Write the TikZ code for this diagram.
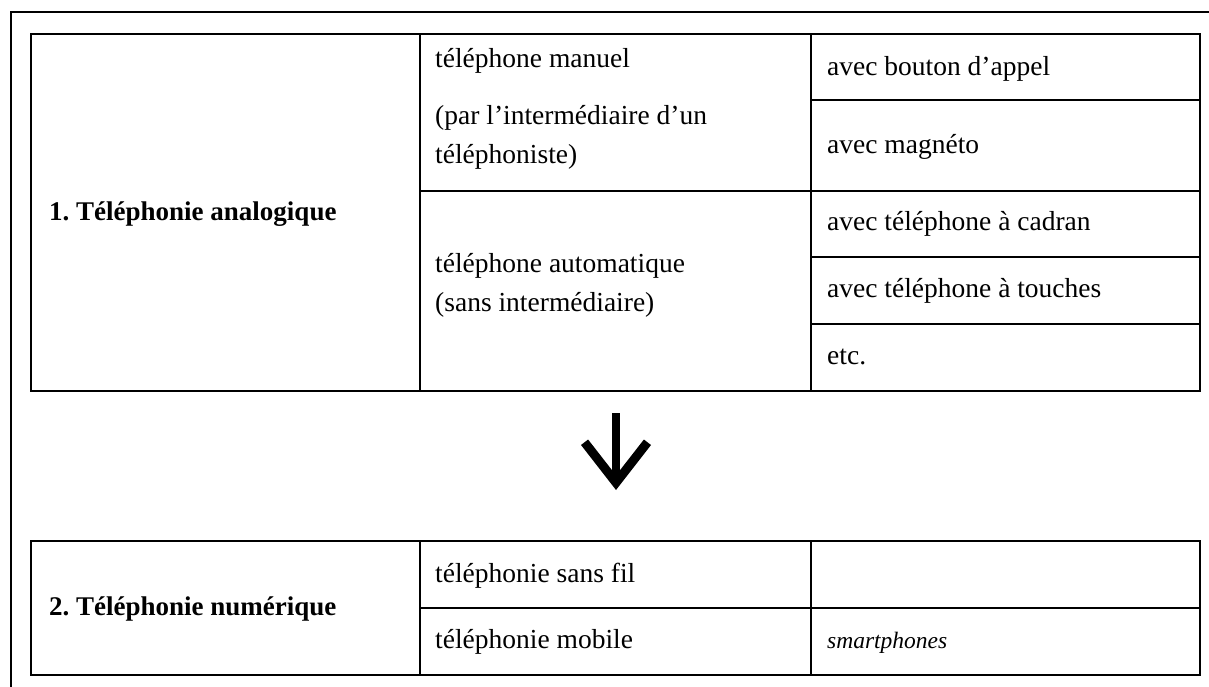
\documentclass[tikz,border=0pt]{standalone}
\usepackage{fontspec}
\setmainfont{Liberation Serif}
\usetikzlibrary{calc}
\frenchspacing
\begin{document}
\begin{tikzpicture}[x=1pt,y=-1pt,
  rule/.style={line width=2pt, line join=miter},
  txt/.style={inner sep=0pt, anchor=base west, font=\fontsize{27.5}{30}\selectfont},
  head/.style={txt, font=\fontsize{27}{30}\selectfont\bfseries},
  ital/.style={txt, font=\fontsize{23.5}{26}\selectfont\itshape}]
\useasboundingbox (0,0) rectangle (1209,686);
% outer frame (only top and left visible)
\draw[rule] (11,687) -- (11,12) -- (1210,12);
% table 1 grid
\draw[rule] (31,34) rectangle (1200,391);
\draw[rule] (420,34) -- (420,391);
\draw[rule] (811,34) -- (811,391);
\draw[rule] (420,191) -- (1200,191);
\draw[rule] (811,100) -- (1200,100);
\draw[rule] (811,257) -- (1200,257);
\draw[rule] (811,324) -- (1200,324);
% table 2 grid
\draw[rule] (31,541) rectangle (1200,675);
\draw[rule] (420,541) -- (420,675);
\draw[rule] (811,541) -- (811,675);
\draw[rule] (420,608) -- (1200,608);
% table 1 texts
\node[head] (t1) at (49,220) {1. Téléphonie analogique};
\node[txt] (man1) at (435,67) {téléphone manuel};
\node[txt] (man2) at (435,124) {(par l’intermédiaire d’un};
\node[txt] (man3) at (435,163) {téléphoniste)};
\node[txt] (aut1) at (435,272) {téléphone automatique};
\node[txt] (aut2) at (435,311) {(sans intermédiaire)};
\node[txt] (c1) at (827,75) {avec bouton d’appel};
\node[txt] (c2) at (827,153) {avec magnéto};
\node[txt] (c3) at (827,230) {avec téléphone à cadran};
\node[txt] (c4) at (827,297) {avec téléphone à touches};
\node[txt] (c5) at (827,364) {etc.};
% arrow
\coordinate (arrtop) at (616,413);
\coordinate (arrtip) at (616,490);
\draw[line width=8pt] (arrtop) -- ($(arrtip)+(0,-10)$);
\fill (arrtip) -- ($(arrtip)+(-35,-45)$) -- ($(arrtip)+(-27.9,-50.5)$)
      -- ($(arrtip)+(0,-14.7)$) -- ($(arrtip)+(27.9,-50.5)$)
      -- ($(arrtip)+(35,-45)$) -- cycle;
% table 2 texts
\node[head] (t2) at (49,615) {2. Téléphonie numérique};
\node[txt] (sf) at (435,582) {téléphonie sans fil};
\node[txt] (mob) at (435,648) {téléphonie mobile};
\node[ital] (smart) at (827,648) {smartphones};
\end{tikzpicture}
\end{document}
